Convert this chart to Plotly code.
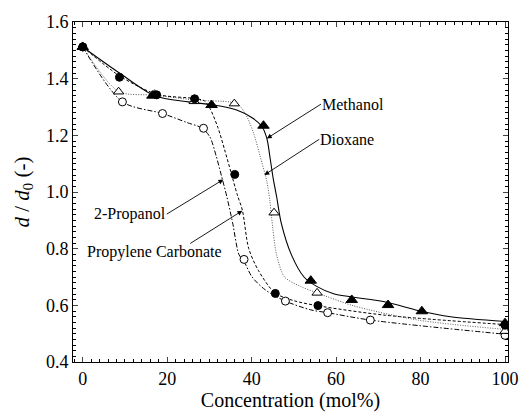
import plotly.graph_objects as go

# ---- measured points (markers) ----
meth_x = [0, 16.5, 30.5, 42.8, 54.0, 63.7, 72.3, 80.3, 100]
meth_y = [1.512, 1.340, 1.307, 1.234, 0.687, 0.619, 0.601, 0.579, 0.537]

prop_x = [0, 8.7, 17.5, 26.5, 36.0, 45.6, 55.7, 100]
prop_y = [1.512, 1.405, 1.343, 1.329, 1.062, 0.642, 0.599, 0.530]

diox_x = [0, 8.5, 17.0, 26.4, 35.9, 45.3, 55.5, 100]
diox_y = [1.512, 1.354, 1.345, 1.320, 1.312, 0.927, 0.644, 0.509]

pc_x = [0, 9.4, 18.9, 28.6, 38.2, 48.0, 58.0, 68.1, 100]
pc_y = [1.512, 1.318, 1.277, 1.225, 0.762, 0.615, 0.574, 0.548, 0.494]

# ---- fitted curves ----
meth_cx = [0, 8.7, 17, 25, 31, 36.3, 40.1, 42.4, 43.6, 44.3, 45.1, 45.9, 47.0, 49.4, 52.4, 55.5, 59.4, 71.7, 79.4, 87.1, 100]
meth_cy = [1.512, 1.42, 1.34, 1.318, 1.307, 1.29, 1.262, 1.232, 1.189, 1.127, 1.048, 0.985, 0.891, 0.779, 0.700, 0.666, 0.641, 0.612, 0.582, 0.560, 0.543]

diox_cx = [0, 8.5, 17, 27, 34.7, 37, 39, 40.5, 42, 43.6, 44.3, 44.7, 45.9, 47.8, 51.7, 55.5, 64, 79.4, 100]
diox_cy = [1.512, 1.355, 1.342, 1.324, 1.318, 1.307, 1.262, 1.206, 1.127, 1.037, 0.97, 0.913, 0.779, 0.700, 0.666, 0.644, 0.599, 0.548, 0.515]

prop_cx = [0, 8.7, 17.5, 26.5, 28.8, 30.1, 32.0, 33.6, 35.1, 36.6, 37.8, 39.3, 41.6, 45.5, 50.1, 55.5, 71.7, 100]
prop_cy = [1.512, 1.41, 1.345, 1.33, 1.322, 1.296, 1.228, 1.149, 1.07, 0.99, 0.936, 0.801, 0.723, 0.644, 0.616, 0.599, 0.565, 0.532]

pc_cx = [0, 9.4, 18.9, 24.7, 28.2, 30.1, 31.6, 32.8, 34.1, 35.5, 37.0, 38.2, 40.1, 43.2, 47.8, 54.0, 58.0, 68.1, 100]
pc_cy = [1.512, 1.318, 1.277, 1.245, 1.226, 1.195, 1.127, 1.06, 0.985, 0.891, 0.779, 0.755, 0.700, 0.655, 0.616, 0.584, 0.574, 0.548, 0.498]

# ---- labels ----
x_ticks = [0, 20, 40, 60, 80, 100]
y_ticks = [0.4, 0.6, 0.8, 1.0, 1.2, 1.4, 1.6]
y_tick_text = ["0.4", "0.6", "0.8", "1.0", "1.2", "1.4", "1.6"]
arrow_texts = ["Methanol", "Dioxane", "2-Propanol"]
arrow_anchor = ["left", "left", "right"]
arrow_head_x = [43.6, 43.0, 33.3]
arrow_head_y = [1.189, 1.060, 1.044]
arrow_tail_x = [56.4, 56.0, 19.9]
arrow_tail_y = [1.310, 1.186, 0.922]
pc_text = "Propylene Carbonate"
pc_text_xy = [16.9, 0.788]
pc_head_xy = [37.8, 0.934]
pc_tail_xy = [25.1, 0.815]

FONT = "Liberation Serif"

fig = go.Figure()

curves = [
    (meth_cx, meth_cy, "solid", "black", 1.1),
    (diox_cx, diox_cy, "1px,1.5px", "#555555", 1.0),
    (prop_cx, prop_cy, "3px,2px", "black", 1.0),
    (pc_cx, pc_cy, "5px,2px,1.5px,2px", "black", 1.0),
]
for cx, cy, dash, col, w in curves:
    fig.add_trace(go.Scatter(x=cx, y=cy, mode="lines",
                             line=dict(color=col, width=w, dash=dash, shape="spline", smoothing=0.8),
                             showlegend=False, hoverinfo="skip"))

markers = [
    (pc_x, pc_y, "circle", "white", 8),
    (diox_x, diox_y, "triangle-up", "white", 9),
    (prop_x, prop_y, "circle", "black", 8),
    (meth_x, meth_y, "triangle-up", "black", 10),
]
for mx, my, sym, fill, size in markers:
    fig.add_trace(go.Scatter(x=mx, y=my, mode="markers",
                             marker=dict(symbol=sym, color=fill, size=size,
                                         line=dict(color="black", width=1)),
                             showlegend=False))

annotations = []
for t, anc, hx, hy, tx, ty in zip(arrow_texts, arrow_anchor, arrow_head_x, arrow_head_y,
                                   arrow_tail_x, arrow_tail_y):
    annotations.append(dict(x=hx, y=hy, xref="x", yref="y", ax=tx, ay=ty, axref="x", ayref="y",
                            text=t, xanchor=anc, yanchor="middle", showarrow=True,
                            arrowhead=2, arrowsize=1.1, arrowwidth=0.9, arrowcolor="black",
                            standoff=0, borderpad=0,
                            font=dict(family=FONT, size=16, color="black")))
annotations.append(dict(x=pc_text_xy[0], y=pc_text_xy[1], xref="x", yref="y", text=pc_text,
                        showarrow=False, xanchor="center", yanchor="middle",
                        font=dict(family=FONT, size=16, color="black")))
annotations.append(dict(x=pc_head_xy[0], y=pc_head_xy[1], xref="x", yref="y",
                        ax=pc_tail_xy[0], ay=pc_tail_xy[1], axref="x", ayref="y",
                        text="", showarrow=True, arrowhead=2, arrowsize=1.1, arrowwidth=0.9,
                        arrowcolor="black", standoff=0, startstandoff=0))

fig.update_layout(
    width=530, height=419,
    margin=dict(l=73, r=12, t=13, b=50),
    paper_bgcolor="white", plot_bgcolor="white",
    font=dict(family=FONT, size=18, color="black"),
    annotations=annotations,
)
fig.update_xaxes(range=[-2.3, 100.7], tickvals=x_ticks, ticks="inside", ticklen=5, tickwidth=1,
                 showline=True, linecolor="black", linewidth=1, mirror="ticks",
                 showgrid=False, zeroline=False,
                 minor=dict(ticks="inside", ticklen=3, dtick=2, tick0=0, tickcolor="black"),
                 title=dict(text="Concentration (mol%)", font=dict(family=FONT, size=20), standoff=4),
                 tickfont=dict(family=FONT, size=18))
fig.update_yaxes(range=[0.4, 1.6], tickvals=y_ticks, ticktext=y_tick_text,
                 ticks="inside", ticklen=5, tickwidth=1,
                 showline=True, linecolor="black", linewidth=1, mirror="ticks",
                 showgrid=False, zeroline=False,
                 minor=dict(ticks="inside", ticklen=3, dtick=0.02, tick0=0.4, tickcolor="black"),
                 title=dict(text="<i>d</i> / <i>d</i><sub>0</sub> (-)", font=dict(family=FONT, size=21), standoff=10),
                 tickfont=dict(family=FONT, size=18))

fig.write_html("out.html")
